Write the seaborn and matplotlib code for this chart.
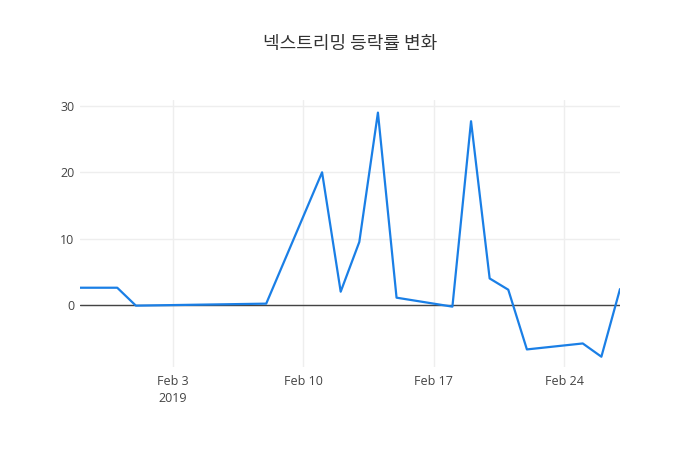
import pandas as pd
import matplotlib
matplotlib.use("Agg")
import matplotlib.pyplot as plt
import seaborn as sns

# daily change rate (%)
dates = ["2019-01-29", "2019-01-30", "2019-01-31", "2019-02-01", "2019-02-08",
         "2019-02-11", "2019-02-12", "2019-02-13", "2019-02-14", "2019-02-15",
         "2019-02-18", "2019-02-19", "2019-02-20", "2019-02-21", "2019-02-22",
         "2019-02-25", "2019-02-26", "2019-02-27"]
rates = [2.6, 2.6, 2.6, -0.1, 0.2,
         20.0, 2.0, 9.5, 29.0, 1.1,
         -0.25, 27.7, 4.0, 2.3, -6.7,
         -5.8, -7.8, 2.4]
title = "넥스트리밍 등락률 변화"
xtick_dates = ["2019-02-03", "2019-02-10", "2019-02-17", "2019-02-24"]
xtick_labels = ["Feb 3\n2019", "Feb 10", "Feb 17", "Feb 24"]
ytick_values = [0, 10, 20, 30]

df = pd.DataFrame({"date": pd.to_datetime(dates), "rate": rates})

sns.set_style("white")
plt.rcParams["font.family"] = ["Open Sans", "Noto Sans CJK KR", "DejaVu Sans"]

fig = plt.figure(figsize=(7, 4.5), dpi=100)
ax = fig.add_axes([80 / 700, 83 / 450, 540 / 700, 267 / 450])

sns.lineplot(data=df, x="date", y="rate", ax=ax, color="#1a7fe6", linewidth=1.6)

ax.set_xlim(df["date"].min(), df["date"].max())
ax.set_ylim(-9.35, 30.9)

ax.set_xticks(pd.to_datetime(xtick_dates))
ax.set_xticklabels(xtick_labels)
ax.set_yticks(ytick_values)
ax.tick_params(axis="both", length=0, labelsize=9, colors="#444444")
ax.tick_params(axis="x", pad=6)
ax.tick_params(axis="y", pad=4)
for lbl in ax.get_xticklabels():
    lbl.set_linespacing(1.35)

ax.grid(True, color="#eeeeee", linewidth=1)
ax.axhline(0, color="#444444", linewidth=1, zorder=1)
for s in ax.spines.values():
    s.set_visible(False)
ax.set_xlabel("")
ax.set_ylabel("")

fig.text(0.5, 1 - 44 / 450, title, ha="center", va="center", fontsize=13,
         color="#333333", family=["Noto Sans CJK KR", "DejaVu Sans"])

fig.savefig("out.png", dpi=100)
